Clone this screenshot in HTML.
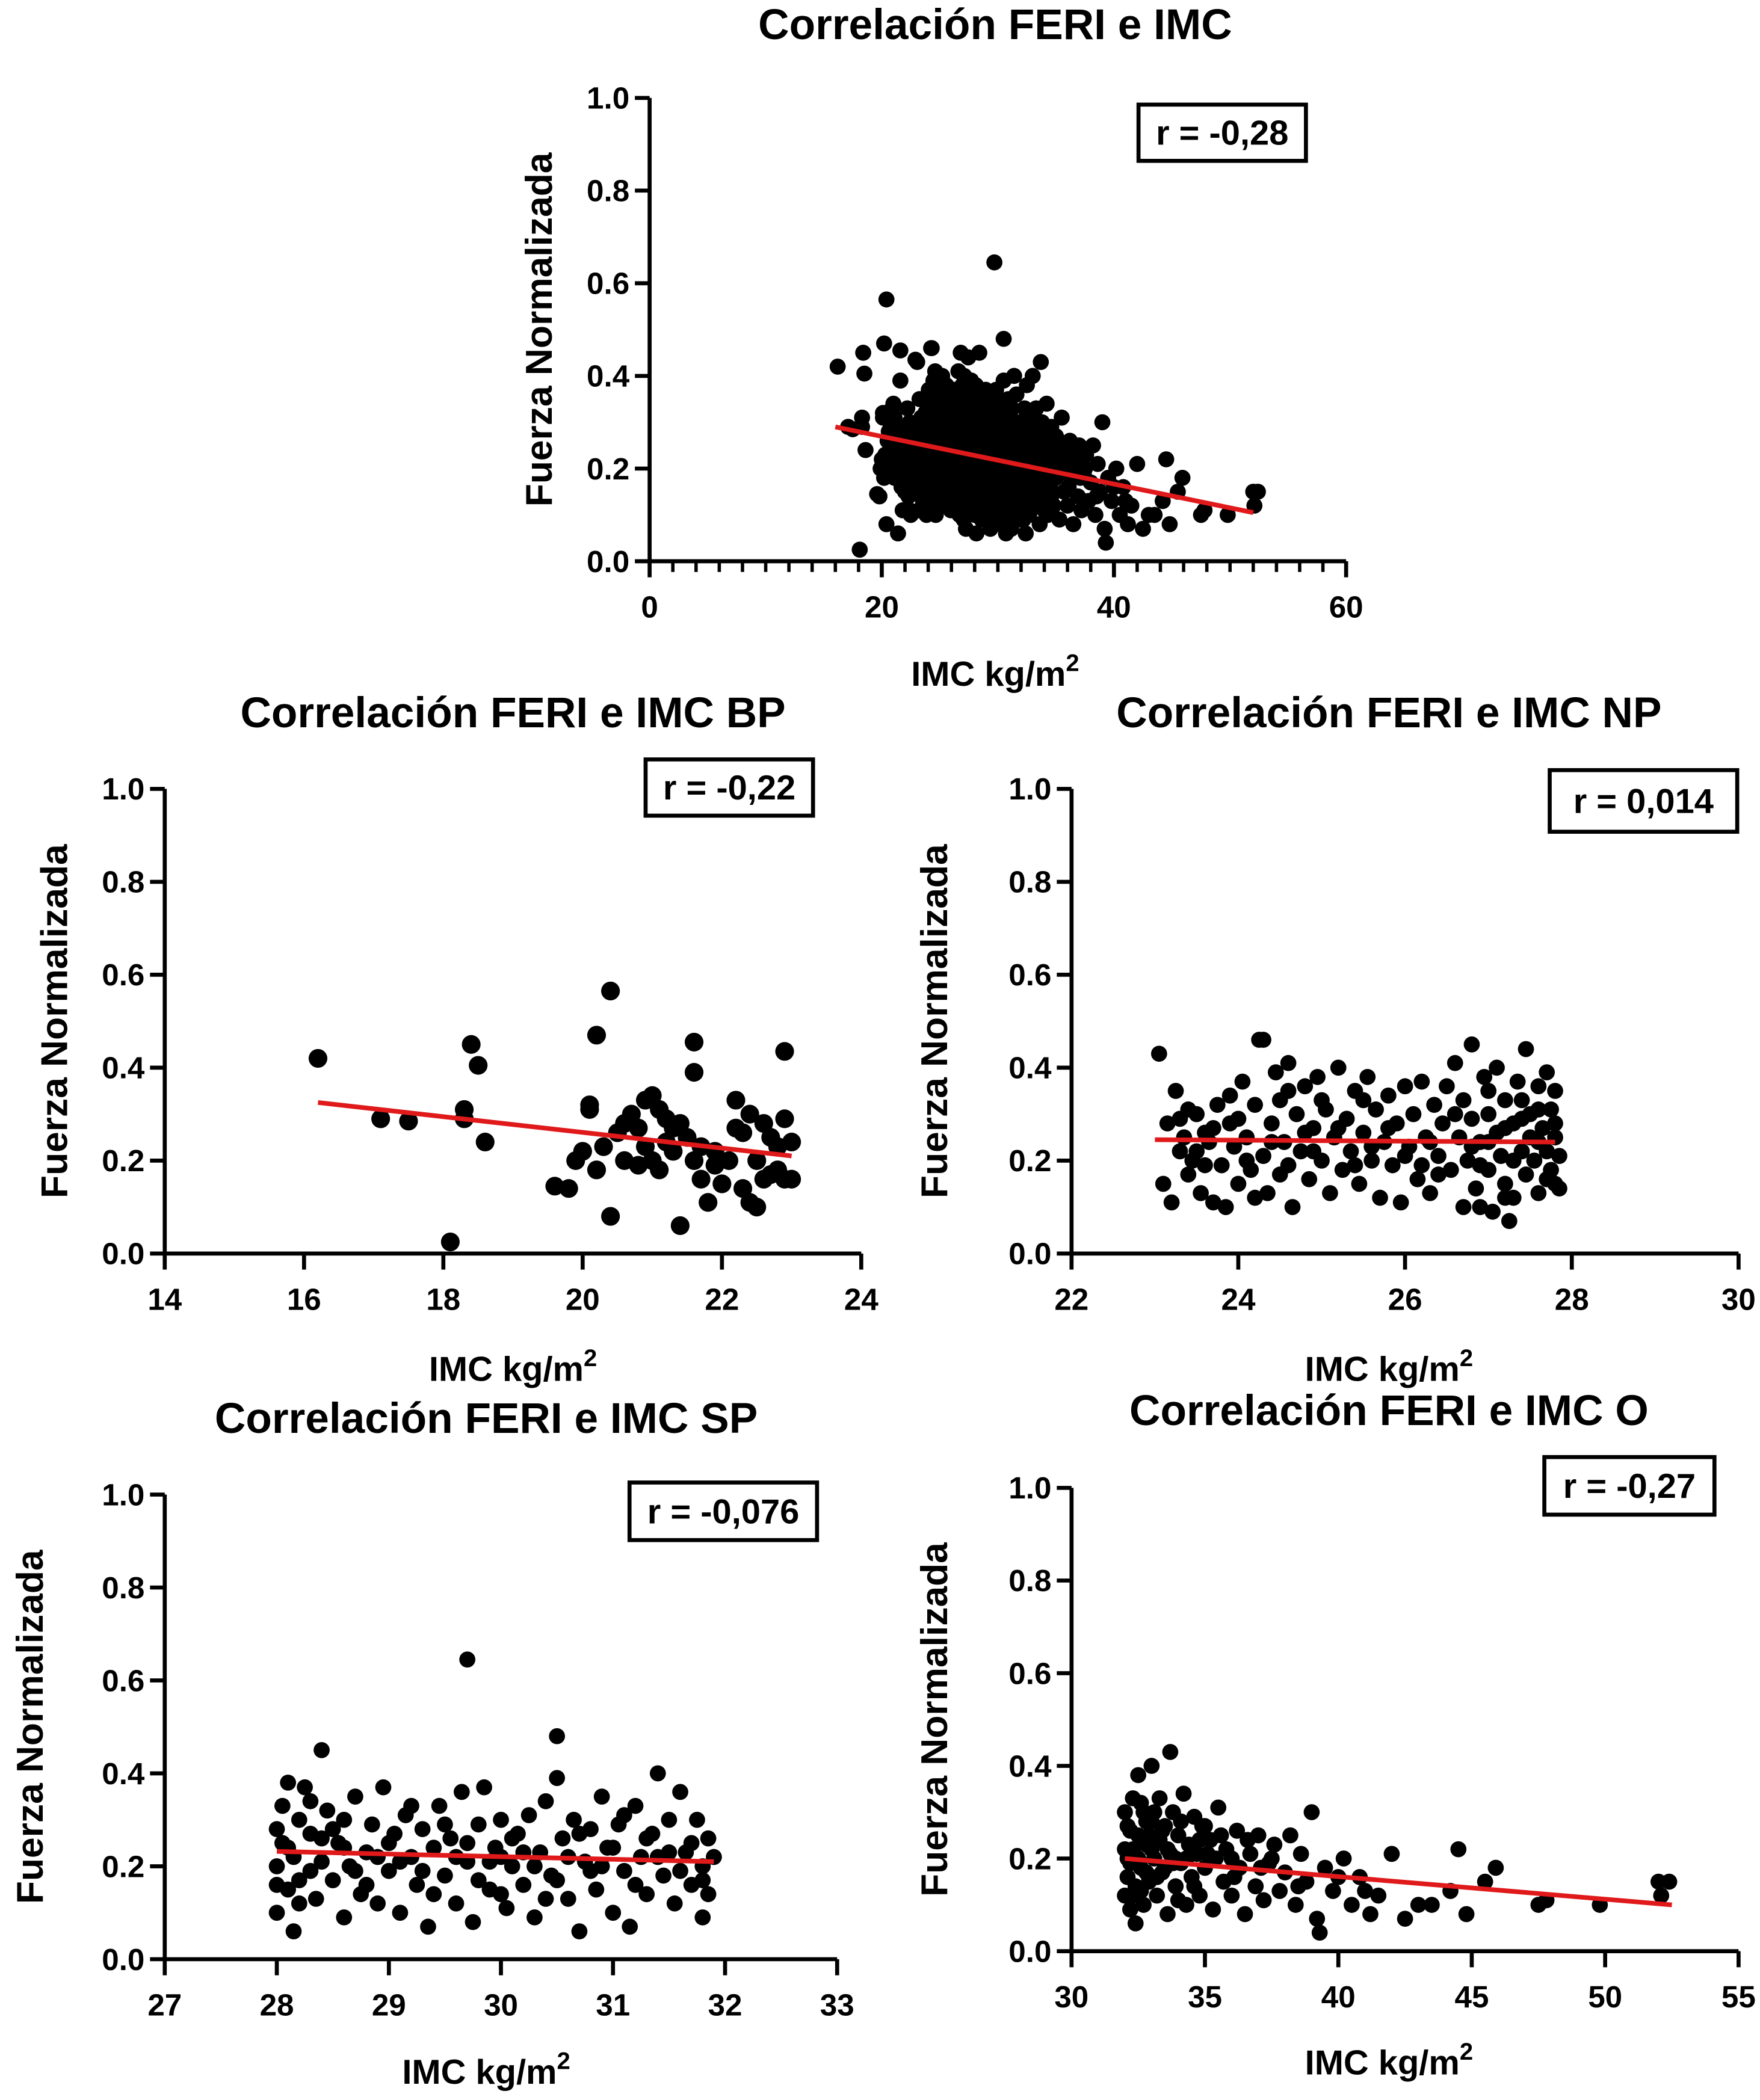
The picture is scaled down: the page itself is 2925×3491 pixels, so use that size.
<!DOCTYPE html>
<html><head><meta charset="utf-8"><style>
html,body{margin:0;padding:0;background:#fff;}
svg{display:block;}
text{font-family:"Liberation Sans",Arial,sans-serif;font-weight:bold;fill:#000;}
</style></head><body>
<svg id="fig" width="2925" height="3491" viewBox="0 0 1314 1568" xmlns="http://www.w3.org/2000/svg"></svg>
<script>
const yTicks=[0,0.2,0.4,0.6,0.8,1.0];
const yTickLabels=["0.0","0.2","0.4","0.6","0.8","1.0"];
const bpPoints=[[16.2,.42],[17.1,.29],[17.5,.285],[18.1,.025],[18.3,.31],[18.3,.29],[18.4,.45],[18.5,.405],[18.6,.24],[19.6,.145],[19.8,.14],[19.9,.2],[20,.22],[20.1,.32],[20.1,.31],[20.2,.18],[20.2,.47],[20.3,.23],[20.4,.565],[20.4,.08],[20.5,.26],[20.6,.28],[20.6,.2],[20.7,.3],[20.8,.19],[20.9,.33],[20.9,.23],[21,.34],[21,.2],[21.1,.18],[21.1,.31],[21.2,.29],[21.2,.24],[21.3,.22],[21.4,.06],[21.4,.28],[21.5,.25],[21.6,.39],[21.6,.455],[21.6,.2],[21.7,.16],[21.7,.23],[21.8,.11],[21.9,.22],[21.9,.19],[22,.15],[22.1,.2],[22.2,.27],[22.2,.33],[22.3,.14],[22.3,.26],[22.4,.11],[22.4,.3],[22.5,.1],[22.5,.2],[22.6,.28],[22.6,.16],[22.7,.25],[22.7,.17],[22.8,.23],[22.9,.29],[22.9,.435],[22.9,.16],[23,.24],[23,.16],[22.8,.18],[21.3,.27],[20.8,.27]];
const npPoints=[[23.05,.43],[23.1,.15],[23.15,.28],[23.2,.11],[23.25,.35],[23.3,.22],[23.35,.25],[23.4,.17],[23.45,.2],[23.5,.3],[23.55,.13],[23.6,.26],[23.65,.24],[23.7,.11],[23.75,.32],[23.8,.19],[23.85,.1],[23.9,.28],[23.95,.23],[24.0,.15],[24.05,.37],[24.1,.25],[24.15,.18],[24.2,.32],[24.25,.46],[24.3,.46],[24.3,.21],[24.35,.13],[24.4,.28],[24.45,.39],[24.5,.33],[24.5,.17],[24.55,.24],[24.6,.41],[24.65,.1],[24.7,.3],[24.75,.22],[24.8,.36],[24.85,.16],[24.9,.27],[24.95,.38],[25.0,.2],[25.05,.31],[25.1,.13],[25.15,.25],[25.2,.4],[25.25,.18],[25.3,.29],[25.35,.22],[25.4,.35],[25.45,.15],[25.5,.26],[25.55,.38],[25.6,.2],[25.65,.31],[25.7,.12],[25.75,.24],[25.8,.34],[25.85,.19],[25.9,.28],[25.95,.11],[26.0,.36],[26.05,.23],[26.1,.3],[26.15,.16],[26.2,.37],[26.25,.25],[26.3,.13],[26.35,.32],[26.4,.21],[26.45,.28],[26.5,.36],[26.55,.18],[26.6,.41],[26.65,.25],[26.7,.1],[26.7,.33],[26.75,.2],[26.8,.45],[26.8,.29],[26.85,.14],[26.9,.24],[26.95,.38],[27.0,.18],[27.0,.3],[27.05,.09],[27.1,.26],[27.1,.4],[27.15,.21],[27.2,.33],[27.2,.15],[27.25,.07],[27.3,.28],[27.3,.12],[27.35,.37],[27.4,.22],[27.45,.44],[27.45,.17],[27.5,.3],[27.5,.25],[27.55,.2],[27.6,.36],[27.6,.13],[27.65,.27],[27.7,.39],[27.7,.22],[27.75,.18],[27.75,.31],[27.8,.25],[27.8,.15],[27.85,.21],[27.85,.14],[23.6,.19],[24.0,.29],[24.8,.26],[25.6,.23],[26.3,.24],[25.0,.33],[24.2,.12],[26.9,.19],[27.4,.29],[23.9,.34],
[23.3,.29],[23.5,.22],[23.7,.27],[24.1,.2],[24.4,.24],[24.6,.19],[24.9,.22],[25.2,.27],[25.4,.19],[25.8,.27],[26.0,.21],[26.2,.19],[26.6,.3],[26.8,.23],[27.0,.24],[27.2,.27],[27.4,.33],[27.6,.31],[27.7,.16],[27.8,.28],[27.8,.35],[27.2,.12],[26.9,.1],[25.5,.33],[24.6,.35],[23.4,.31],[27.0,.35],[27.6,.24],[27.3,.2],[26.4,.17]];
const spPoints=[[28.0,.1],[28.0,.2],[28.05,.33],[28.05,.25],[28.1,.15],[28.1,.38],[28.15,.06],[28.15,.22],[28.2,.3],[28.2,.17],[28.25,.37],[28.3,.27],[28.35,.13],[28.4,.45],[28.4,.21],[28.45,.32],[28.5,.17],[28.55,.25],[28.6,.09],[28.6,.3],[28.65,.2],[28.7,.35],[28.75,.14],[28.8,.23],[28.85,.29],[28.9,.12],[28.95,.37],[29.0,.19],[29.05,.27],[29.1,.1],[29.15,.31],[29.2,.22],[29.25,.16],[29.3,.28],[29.35,.07],[29.4,.24],[29.45,.33],[29.5,.18],[29.55,.26],[29.6,.12],[29.65,.36],[29.7,.645],[29.7,.21],[29.75,.08],[29.8,.29],[29.85,.37],[29.9,.15],[29.95,.24],[30.0,.3],[30.05,.11],[30.1,.2],[30.15,.27],[30.2,.16],[30.25,.31],[30.3,.09],[30.35,.23],[30.4,.34],[30.45,.18],[30.5,.48],[30.5,.39],[30.55,.26],[30.6,.13],[30.65,.3],[30.7,.06],[30.75,.21],[30.8,.28],[30.85,.15],[30.9,.35],[30.95,.24],[31.0,.1],[31.05,.29],[31.1,.19],[31.15,.07],[31.2,.33],[31.25,.22],[31.3,.14],[31.35,.27],[31.4,.4],[31.45,.18],[31.5,.3],[31.55,.12],[31.6,.36],[31.65,.23],[31.7,.16],[31.75,.3],[31.8,.2],[31.8,.09],[31.85,.26],[31.85,.14],[28.3,.19],[28.9,.22],[29.5,.29],[30.2,.23],[30.8,.19],[31.3,.26],[29.2,.33],[30.0,.14],[31.6,.19],
[28.0,.28],[28.1,.24],[28.2,.12],[28.4,.26],[28.5,.28],[28.7,.19],[28.8,.16],[29.0,.25],[29.1,.21],[29.3,.19],[29.4,.14],[29.6,.22],[29.8,.17],[30.0,.22],[30.1,.26],[30.3,.2],[30.4,.13],[30.6,.22],[30.7,.27],[30.9,.2],[31.0,.24],[31.1,.31],[31.2,.16],[31.4,.22],[31.5,.23],[31.7,.25],[31.8,.17],[28.6,.24],[29.9,.21],[31.9,.22],[28.0,.16],[28.3,.34],[29.7,.25],[30.5,.17]];
const oPoints=[[32.0,.12],[32.0,.3],[32.1,.2],[32.1,.16],[32.2,.26],[32.2,.09],[32.3,.22],[32.3,.33],[32.4,.14],[32.4,.06],[32.5,.38],[32.5,.25],[32.6,.18],[32.7,.3],[32.7,.1],[32.8,.23],[32.9,.15],[33.0,.28],[33.0,.4],[33.1,.2],[33.2,.12],[33.3,.33],[33.3,.24],[33.4,.17],[33.5,.27],[33.6,.08],[33.7,.43],[33.7,.21],[33.8,.3],[33.9,.14],[34.0,.25],[34.1,.19],[34.2,.34],[34.3,.1],[34.4,.23],[34.5,.16],[34.6,.29],[34.7,.21],[34.8,.12],[34.9,.27],[35.0,.18],[35.2,.24],[35.3,.09],[35.4,.2],[35.5,.31],[35.7,.15],[35.8,.22],[36.0,.12],[36.2,.26],[36.3,.18],[36.5,.08],[36.7,.21],[36.9,.14],[37.0,.25],[37.2,.11],[37.4,.19],[37.6,.23],[37.8,.13],[38.0,.17],[38.2,.25],[38.4,.1],[38.6,.21],[38.8,.15],[39.0,.3],[39.2,.07],[39.3,.04],[39.5,.18],[39.8,.13],[40.2,.2],[40.5,.1],[40.8,.16],[41.2,.08],[41.5,.12],[42.0,.21],[42.5,.07],[43.0,.1],[43.5,.1],[44.2,.13],[44.5,.22],[44.8,.08],[45.5,.15],[45.9,.18],[47.5,.1],[47.8,.11],[49.8,.1],[52.0,.15],[52.1,.12],[52.4,.15],[32.2,.19],[32.6,.13],[33.0,.22],[33.5,.18],[34.0,.11],[34.5,.21],[35.0,.27],[32.8,.28],[33.9,.2],[36.0,.2],[37.5,.2],[40.0,.16],[41.0,.13],
[32.0,.22],[32.1,.27],[32.3,.12],[32.5,.2],[32.6,.32],[32.8,.17],[32.9,.25],[33.1,.3],[33.2,.16],[33.4,.26],[33.6,.22],[33.8,.19],[34.1,.28],[34.3,.2],[34.6,.14],[34.8,.24],[35.1,.21],[35.6,.25],[36.1,.16],[36.6,.24],[37.1,.18],[38.5,.14]];
const allPoints=bpPoints.concat(npPoints,spPoints,oPoints);
const titles=["Correlación FERI e IMC","Correlación FERI e IMC BP","Correlación FERI e IMC NP","Correlación FERI e IMC SP","Correlación FERI e IMC O"];
const rLabels=["r = -0,28","r = -0,22","r  = 0,014","r = -0,076","r = -0,27"];
const xTicksAll=[[0,20,40,60],[14,16,18,20,22,24],[22,24,26,28,30],[27,28,29,30,31,32,33],[30,35,40,45,50,55]];
const fitLines=[[16,0.29,52,0.105],[16.2,0.325,23,0.21],[23,0.245,27.8,0.24],[28,0.232,31.9,0.21],[32,0.2,52.5,0.1]];

const layouts=[
 {id:"all",l:485,r:1005,t:73,b:419,xmin:0,xmax:60,minor:2,pts:allPoints,rad:6,title:[743,18],box:[850,78,125,42],ytx:402,xtx:[743,503]},
 {id:"bp",l:123,r:643,t:589,b:936,xmin:14,xmax:24,minor:0,pts:bpPoints,rad:7,title:[383,532],box:[482,567,125,42],ytx:40,xtx:[383,1022]},
 {id:"np",l:800,r:1298,t:589,b:936,xmin:22,xmax:30,minor:0,pts:npPoints,rad:6,title:[1037,532],box:[1157,575,140,46],ytx:697,xtx:[1037,1022]},
 {id:"sp",l:123,r:625,t:1116,b:1463,xmin:27,xmax:33,minor:0,pts:spPoints,rad:6,title:[363,1059],box:[470,1107,140,43],ytx:22,xtx:[363,1547]},
 {id:"o",l:800,r:1298,t:1111,b:1457,xmin:30,xmax:55,minor:0,pts:oPoints,rad:6,title:[1037,1053],box:[1153,1088,127,43],ytx:697,xtx:[1037,1540]}
];
const NS="http://www.w3.org/2000/svg";
const svg=document.getElementById('fig');
function mk(tag,attrs,parent){const e=document.createElementNS(NS,tag);for(const k in attrs)e.setAttribute(k,attrs[k]);parent.appendChild(e);return e;}
layouts.forEach((L,i)=>{
 const g=mk('g',{},svg);
 
 
 const sx=v=>L.l+(v-L.xmin)/(L.xmax-L.xmin)*(L.r-L.l);
 const sy=v=>L.b-v*(L.b-L.t);
 const tt=mk('text',{x:L.title[0],y:L.title[1]+11,'text-anchor':'middle','font-size':32},g);tt.textContent=titles[i];
 
 
 const pg=mk('g',{},g);
 
 
 L.pts.forEach(p=>{const c=mk('circle',{cx:sx(p[0]),cy:sy(p[1]),r:L.rad,fill:'#000'},pg);
  
  });
 const f=fitLines[i];
 const ln=mk('line',{x1:sx(f[0]),y1:sy(f[1]),x2:sx(f[2]),y2:sy(f[3]),stroke:'#e0191b','stroke-width':3.5},g);
 
 
 const ax=mk('g',{stroke:'#000','stroke-width':3,fill:'none'},g);
 
 
 mk('line',{x1:L.l,y1:L.t,x2:L.l,y2:L.b+1.5},ax);
 mk('line',{x1:L.l-1.5,y1:L.b,x2:L.r,y2:L.b},ax);
 yTicks.forEach((v,k)=>{mk('line',{x1:L.l-11,y1:sy(v),x2:L.l,y2:sy(v)},ax);
  const t=mk('text',{x:L.l-15,y:sy(v)+8,'text-anchor':'end','font-size':23},g);t.textContent=yTickLabels[k];
  
  });
 const xt=xTicksAll[i];
 xt.forEach(v=>{mk('line',{x1:sx(v),y1:L.b,x2:sx(v),y2:L.b+12},ax);
  const t=mk('text',{x:sx(v),y:L.b+42,'text-anchor':'middle','font-size':23},g);t.textContent=String(v);
  
  });
 if(L.minor){for(let v=L.xmin+L.minor;v<L.xmax;v+=L.minor){if(v%20!==0)mk('line',{x1:sx(v),y1:L.b,x2:sx(v),y2:L.b+8,'stroke-width':2.5},ax);}}
 const yt=mk('text',{x:0,y:0,'text-anchor':'middle','font-size':28,transform:`translate(${L.ytx+10},${(L.t+L.b)/2}) rotate(-90)`},g);yt.textContent="Fuerza Normalizada";
 
 
 const xtl=mk('text',{x:L.xtx[0],y:L.xtx[1]+9,'text-anchor':'middle','font-size':26},g);
 xtl.innerHTML='IMC kg/m<tspan dy="-11" font-size="18">2</tspan>';
 
 
 const bx=mk('rect',{x:L.box[0],y:L.box[1],width:L.box[2],height:L.box[3],fill:'#fff',stroke:'#000','stroke-width':3},g);
 
 
 const rt=mk('text',{x:L.box[0]+L.box[2]/2,y:L.box[1]+L.box[3]/2+9,'text-anchor':'middle','font-size':26},g);rt.textContent=rLabels[i];
 
 
});
</script>
</body></html>
